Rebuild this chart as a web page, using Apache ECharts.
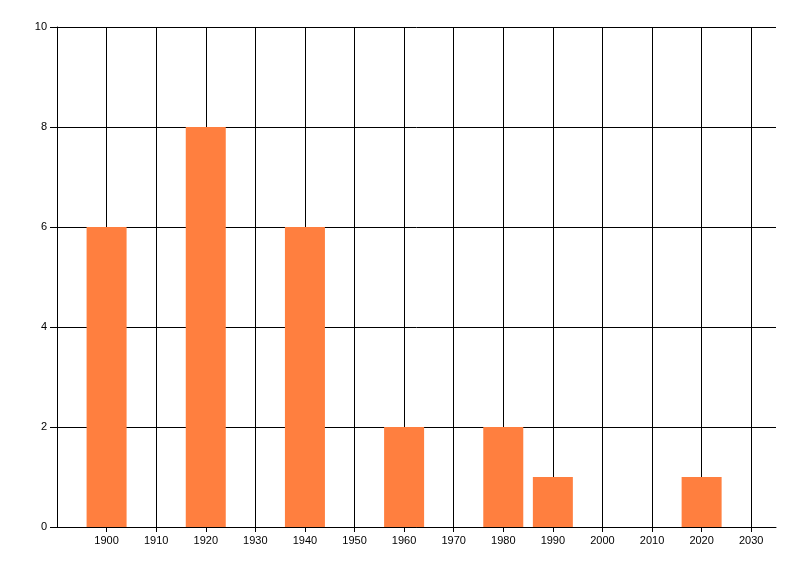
<!DOCTYPE html>
<html>
<head>
<meta charset="utf-8">
<script src="https://cdn.jsdelivr.net/npm/echarts@6/dist/echarts.min.js"></script>
<style>html,body{margin:0;padding:0;background:#fff;}#c{width:800px;height:576px;}</style>
</head>
<body>
<div id="c"></div>
<script>
const years = [1900, 1920, 1940, 1960, 1980, 1990, 2020];
const counts = [6, 8, 6, 2, 2, 1, 1];
const xMin = 1890, xMax = 2035, xStep = 10;
const yMin = 0, yMax = 10, yStep = 2;

const chart = echarts.init(document.getElementById('c'), null, {renderer: 'canvas'});
const font = 'Liberation Sans';
chart.setOption({
  animation: false,
  backgroundColor: '#ffffff',
  grid: {left: 57, right: 24, top: 27, bottom: 49, containLabel: false},
  xAxis: {
    type: 'value', min: xMin, max: xMax, interval: xStep,
    axisLine: {show: true, onZero: false, lineStyle: {color: '#000', width: 1}},
    axisTick: {show: true, length: 5, lineStyle: {color: '#000'}},
    axisLabel: {color: '#000', fontFamily: font, fontSize: 11, margin: 8, showMinLabel: false, showMaxLabel: false,
      formatter: v => (v === xMin || v > 2030) ? '' : String(v)},
    splitLine: {show: true, showMinLine: false, showMaxLine: false, lineStyle: {color: '#000', width: 1}}
  },
  yAxis: {
    type: 'value', min: yMin, max: yMax, interval: yStep,
    axisLine: {show: true, lineStyle: {color: '#000', width: 1}},
    axisTick: {show: true, length: 7, lineStyle: {color: '#000'}},
    axisLabel: {color: '#000', fontFamily: font, fontSize: 11, margin: 10},
    splitLine: {show: true, lineStyle: {color: '#000', width: 1}}
  },
  series: [{
    type: 'bar',
    data: years.map((y, i) => [y, counts[i]]),
    barWidth: 40,
    itemStyle: {color: '#ff7f3f'}
  }]
});
</script>
</body>
</html>
